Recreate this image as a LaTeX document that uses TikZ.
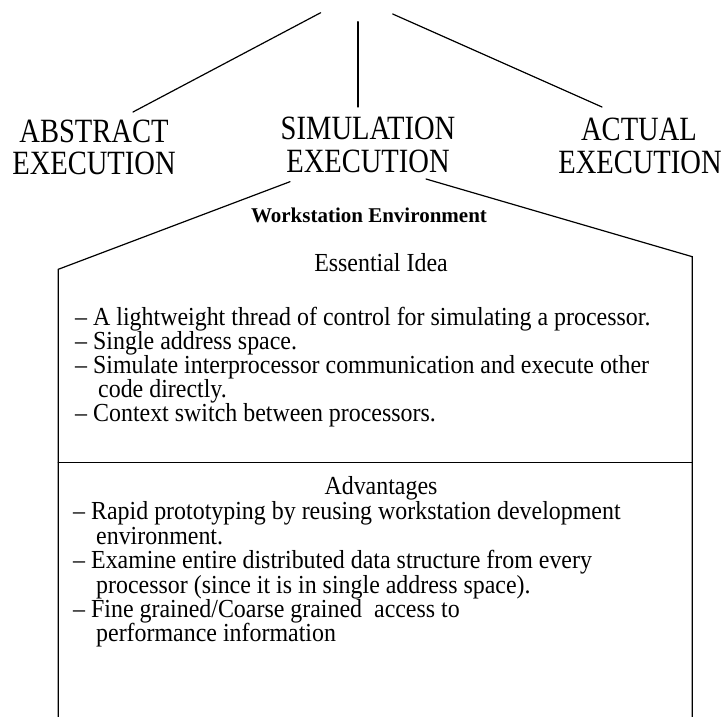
\documentclass[tikz,border=0pt]{standalone}
\usepackage{fontspec}
\setmainfont{Liberation Serif}
\newfontfamily\titlefont[FakeStretch=0.84]{Liberation Serif}
\newfontfamily\bodyfont[FakeStretch=0.92]{Liberation Serif}
\begin{document}
\begin{tikzpicture}[x=1pt,y=-1pt,
  edge/.style={line width=1.2pt,line cap=round},
  title/.style={anchor=base,inner sep=0pt,font=\titlefont\fontsize{34}{34}\selectfont},
  head/.style={anchor=base,inner sep=0pt,font=\bfseries\fontsize{21}{24}\selectfont},
  sub/.style={anchor=base,inner sep=0pt,font=\bodyfont\fontsize{26}{24}\selectfont},
  item/.style={anchor=base west,inner sep=0pt,font=\bodyfont\fontsize{26}{24}\selectfont}]
\useasboundingbox (0,0) rectangle (723,717);

% upper fan of three branches
\coordinate (fanL) at (320.7,12.7);
\coordinate (fanC) at (358,21.7);
\coordinate (fanR) at (392.7,14);
\coordinate (endL) at (133,112);
\coordinate (endC) at (358,107);
\coordinate (endR) at (602,107);
\draw[edge] (fanL) -- (endL);
\draw[edge] (fanC) -- (endC);
\draw[edge] (fanR) -- (endR);

% the three kinds of execution
\node[title] (abs1) at (94,142) {ABSTRACT};
\node[title] (abs2) at (94,174) {EXECUTION};
\node[title] (sim1) at (368,139) {SIMULATION};
\node[title] (sim2) at (368,172.5) {EXECUTION};
\node[title] (act1) at (639,140) {ACTUAL};
\node[title] (act2) at (640,173) {EXECUTION};

% roof and walls of the workstation box
\coordinate (roofL) at (290,181.7);
\coordinate (roofR) at (426,179);
\coordinate (cornL) at (58.3,269.3);
\coordinate (cornR) at (692.3,256.7);
\coordinate (footL) at (58.3,718);
\coordinate (footR) at (692.3,718);
\draw[edge] (roofL) -- (cornL) -- (footL);
\draw[edge] (roofR) -- (cornR) -- (footR);
\coordinate (divL) at (58.3,462.7);
\coordinate (divR) at (692.3,462.7);
\draw[edge] (divL) -- (divR);

\node[head] (ws) at (369,222) {Workstation Environment};

% essential idea
\node[sub] (idea) at (381,271) {Essential Idea};
\node[item] (i1) at (75,325) {– A lightweight thread of control for simulating a processor.};
\node[item] (i2) at (75,349) {– Single address space.};
\node[item] (i3) at (75,373) {– Simulate interprocessor communication and execute other};
\node[item] (i4) at (98,397) {code directly.};
\node[item] (i5) at (75,421) {– Context switch between processors.};

% advantages
\node[sub] (adv) at (381,494) {Advantages};
\node[item] (a1) at (73,519) {– Rapid prototyping by reusing workstation development};
\node[item] (a2) at (96,544) {environment.};
\node[item] (a3) at (73,568) {– Examine entire distributed data structure from every};
\node[item] (a4) at (96,593) {processor (since it is in single address space).};
\node[item] (a5) at (73,617) {– Fine grained/Coarse grained\ \ access to};
\node[item] (a6) at (96,641) {performance information};
\end{tikzpicture}
\end{document}
